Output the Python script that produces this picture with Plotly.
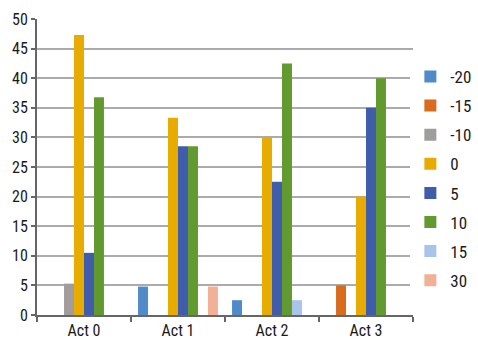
import plotly.graph_objects as go

categories = ["Act 0", "Act 1", "Act 2", "Act 3"]
series_names = ["-20", "-15", "-10", "0", "5", "10", "15", "30"]
v_m20 = [0, 4.8, 2.5, 0]
v_m15 = [0, 0, 0, 5.0]
v_m10 = [5.3, 0, 0, 0]
v_0 = [47.3, 33.3, 30.0, 20.0]
v_5 = [10.5, 28.5, 22.5, 35.0]
v_10 = [36.8, 28.5, 42.5, 40.0]
v_15 = [0, 0, 2.5, 0]
v_30 = [0, 4.8, 0, 0]
values = [v_m20, v_m15, v_m10, v_0, v_5, v_10, v_15, v_30]
colors = ["#4F8BC9", "#D86B1E", "#A19D9C", "#E8AC00", "#3F5DAA", "#639A2F", "#A9C4EA", "#F2B096"]

font_family = "Liberation Sans Narrow, Roboto Condensed, Arial Narrow, Liberation Sans, sans-serif"

fig = go.Figure()
for name, vals, col in zip(series_names, values, colors):
    fig.add_trace(go.Bar(x=categories, y=vals, name=name, marker_color=col,
                         marker_line_width=0, legendgroup=name))

fig.update_layout(
    width=478, height=354,
    margin=dict(l=37, r=65, t=19, b=39, autoexpand=False),
    barmode="group", bargap=0.15, bargroupgap=0,
    plot_bgcolor="white", paper_bgcolor="white",
    font=dict(family=font_family, size=16, color="#1a1a1a"),
    legend=dict(x=0.993, xanchor="left", y=0.865, yanchor="top",
                traceorder="grouped", tracegroupgap=4,
                font=dict(size=17), itemwidth=30),
    showlegend=True,
)
fig.update_xaxes(showline=True, linecolor="#666666", linewidth=2,
                 ticks="outside", tickson="boundaries", ticklen=5,
                 tickcolor="#666666", tickwidth=2, showgrid=False)
fig.update_yaxes(range=[0, 50], dtick=5, showline=True, linecolor="#666666",
                 linewidth=2, ticks="outside", ticklen=4, tickcolor="#666666",
                 tickwidth=2, gridcolor="#ABABAB", gridwidth=1.5,
                 zeroline=False)

fig.write_html("out.html")
